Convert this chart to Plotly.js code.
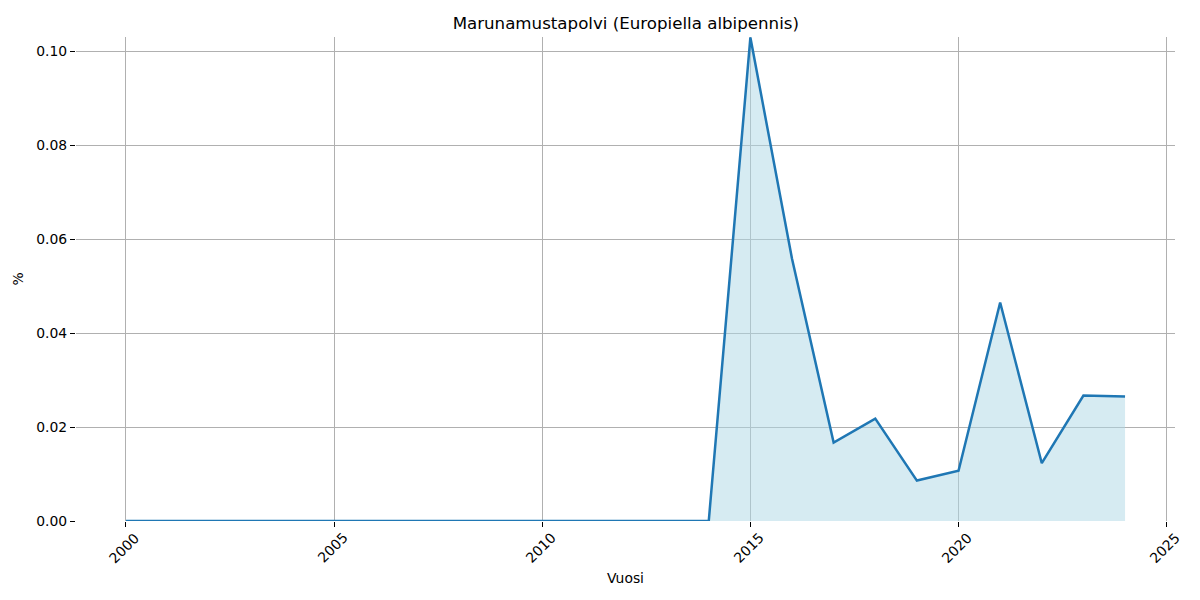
<!DOCTYPE html>
<html>
<head>
<meta charset="utf-8">
<script src="https://cdn.plot.ly/plotly-3.0.1.min.js"></script>
<style>html,body{margin:0;padding:0;background:#fff;}#chart{width:1200px;height:600px;}</style>
</head>
<body>
<div id="chart"></div>
<script>
const years = [2000,2001,2002,2003,2004,2005,2006,2007,2008,2009,2010,2011,2012,2013,2014,2015,2016,2017,2018,2019,2020,2021,2022,2023,2024];
const values = [0,0,0,0,0,0,0,0,0,0,0,0,0,0,0,0.1029,0.0558,0.0167,0.0218,0.0086,0.0107,0.0465,0.0123,0.0267,0.0265];
const xTickVals = [2000,2005,2010,2015,2020,2025];
const xTickText = ["2000","2005","2010","2015","2020","2025"];
const yTickVals = [0,0.02,0.04,0.06,0.08,0.10];
const titleText = "Marunamustapolvi (Europiella albipennis)";
const xTitle = "Vuosi";
const yTitle = "%";

const font = "DejaVu Sans, sans-serif";
const fs = 13.9;

const trace = {
  x: years, y: values, type: 'scatter', mode: 'lines',
  line: {color: '#1f77b4', width: 2.5},
  fill: 'tozeroy', fillcolor: 'rgba(173,216,230,0.5)',
  hoverinfo: 'skip'
};

const annotations = xTickVals.map((v, i) => ({
  x: v, xref: 'x', y: 0, yref: 'y',
  text: xTickText[i], showarrow: false, textangle: -45,
  xanchor: 'center', yanchor: 'top', yshift: -6, xshift: -2,
  font: {family: font, size: fs, color: '#000'}
}));

const layout = {
  width: 1200, height: 600,
  paper_bgcolor: '#fff', plot_bgcolor: '#fff',
  margin: {l: 76, r: 25, t: 37, b: 79},
  showlegend: false,
  font: {family: font, size: fs, color: '#000'},
  title: {text: titleText, x: 0.5215, xanchor: 'center', y: 1 - 23/600, yanchor: 'middle', yref: 'container',
          font: {family: font, size: 16.67, color: '#000'}},
  xaxis: {
    range: [1998.8, 2025.2], tickvals: xTickVals, showticklabels: false,
    ticks: 'outside', ticklen: 5, tickwidth: 1, tickcolor: '#000',
    showgrid: true, gridcolor: '#b0b0b0', gridwidth: 1,
    zeroline: false, showline: false,
    title: {text: xTitle, standoff: 47, font: {family: font, size: fs, color: '#000'}}
  },
  yaxis: {
    range: [0, 0.103], tickvals: yTickVals, tickformat: '.2f',
    ticks: 'outside', ticklen: 5, tickwidth: 1, tickcolor: '#000',
    showgrid: true, gridcolor: '#b0b0b0', gridwidth: 1,
    zeroline: false, showline: false,
    tickfont: {family: font, size: fs, color: '#000'},
    title: {text: yTitle, standoff: 9, font: {family: font, size: fs, color: '#000'}}
  },
  annotations: annotations
};

Plotly.newPlot('chart', [trace], layout, {staticPlot: true});
</script>
</body>
</html>
